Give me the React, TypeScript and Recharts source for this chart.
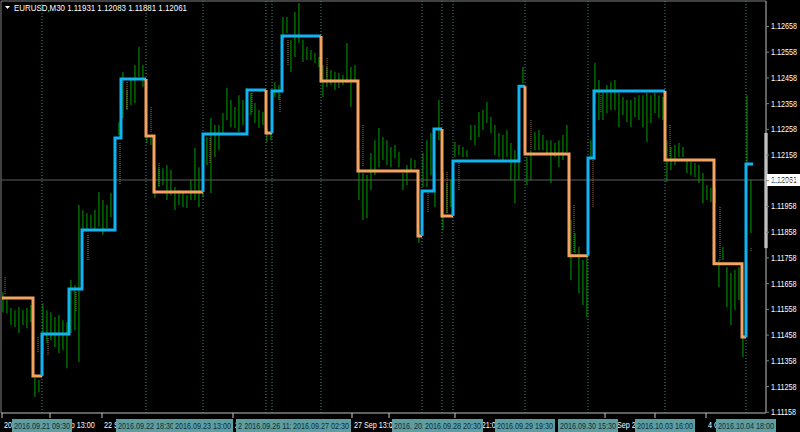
import { ComposedChart, Bar, Line, XAxis, YAxis, ReferenceLine, ReferenceArea } from 'recharts';

const FONT = "'Liberation Sans', Arial, sans-serif";
const SQUEEZE = 0.82; // terminal font is narrower than Liberation Sans

const symbol = 'EURUSD,M30';
const ohlc = [1.11931, 1.12083, 1.11881, 1.12061];
const lastPrice = 1.12061;

const priceTicks = [
  1.11158, 1.11258, 1.11358, 1.11458, 1.11558, 1.11658, 1.11758, 1.11858,
  1.11958, 1.12058, 1.12158, 1.12258, 1.12358, 1.12458, 1.12558, 1.12658,
];

// high / low of every second M30 bar
const barHi = [
  1.11625, 1.11594, 1.11563, 1.11555, 1.11567, 1.11555, 1.11563, 1.11575, 1.11291, 1.11283,
  1.11582, 1.11555, 1.11547, 1.11528, 1.11536, 1.11516, 1.11508, 1.11672, 1.11652, 1.11964,
  1.11944, 1.11932, 1.11925, 1.11944, 1.12014, 1.11983, 1.11964, 1.12010, 1.11983, 1.12286,
  1.12481, 1.12411, 1.12450, 1.12508, 1.12578, 1.12508, 1.12236, 1.12224, 1.12111, 1.12107,
  1.12107, 1.12119, 1.12100, 1.12034, 1.12022, 1.12010, 1.12002, 1.12061, 1.12185, 1.12111,
  1.12088, 1.12228, 1.12302, 1.12275, 1.12275, 1.12321, 1.12419, 1.12372, 1.12345, 1.12391,
  1.12372, 1.12419, 1.12399, 1.12360, 1.12333, 1.12325, 1.12267, 1.12244, 1.12442, 1.12430,
  1.12695, 1.12695, 1.12605, 1.12714, 1.12749, 1.12605, 1.12578, 1.12566, 1.12555, 1.12539,
  1.12508, 1.12500, 1.12489, 1.12481, 1.12477, 1.12469, 1.12594, 1.12500, 1.12508, 1.12177,
  1.12088, 1.12080, 1.12166, 1.12216, 1.12263, 1.12228, 1.12216, 1.12189, 1.12197, 1.12170,
  1.12088, 1.12119, 1.12146, 1.12139, 1.11866, 1.12166, 1.12216, 1.12244, 1.12088, 1.12372,
  1.12088, 1.12049, 1.12061, 1.12209, 1.12197, 1.12189, 1.12177, 1.12275, 1.12275, 1.12325,
  1.12333, 1.12364, 1.12306, 1.12275, 1.12244, 1.12236, 1.12255, 1.12205, 1.12177, 1.12139,
  1.12500, 1.12150, 1.12177, 1.12248, 1.12255, 1.12236, 1.12216, 1.12216, 1.12205, 1.12216,
  1.12236, 1.12275, 1.11905, 1.11855, 1.11800, 1.11750, 1.11761, 1.12216, 1.12516, 1.12450,
  1.12411, 1.12430, 1.12442, 1.12450, 1.12399, 1.12384, 1.12372, 1.12372, 1.12384, 1.12391,
  1.12391, 1.12399, 1.12391, 1.12399, 1.12391, 1.12384, 1.12216, 1.12189, 1.12197, 1.12205,
  1.12189, 1.12139, 1.12131, 1.12127, 1.12119, 1.12088, 1.12041, 1.12030, 1.12034, 1.11750,
  1.11800, 1.11722, 1.11699, 1.11711, 1.11722, 1.11450, 1.12391, 1.12061,
];
const barLo = [
  1.11547, 1.11543, 1.11497, 1.11489, 1.11466, 1.11497, 1.11485, 1.11508, 1.11217, 1.11236,
  1.11388, 1.11427, 1.11438, 1.11411, 1.11388, 1.11399, 1.11329, 1.11466, 1.11477, 1.11353,
  1.11859, 1.11866, 1.11874, 1.11866, 1.11878, 1.11847, 1.11874, 1.11917, 1.11886, 1.12236,
  1.12302, 1.12333, 1.12353, 1.12360, 1.12461, 1.12423, 1.12205, 1.12197, 1.11991, 1.12034,
  1.12041, 1.11983, 1.12002, 1.11944, 1.11964, 1.11956, 1.11952, 1.11983, 1.11983, 1.11956,
  1.11995, 1.12119, 1.12010, 1.12150, 1.12177, 1.12244, 1.12294, 1.12267, 1.12263, 1.12248,
  1.12275, 1.12321, 1.12314, 1.12283, 1.12263, 1.12275, 1.12209, 1.12216, 1.12384, 1.12372,
  1.12605, 1.12633, 1.12481, 1.12539, 1.12594, 1.12520, 1.12528, 1.12528, 1.12516, 1.12500,
  1.12384, 1.12423, 1.12430, 1.12411, 1.12419, 1.12430, 1.12438, 1.12345, 1.12450, 1.11983,
  1.11905, 1.11913, 1.12022, 1.12080, 1.12111, 1.12139, 1.12119, 1.12111, 1.12146, 1.12111,
  1.12022, 1.12041, 1.12100, 1.12107, 1.11816, 1.12034, 1.12034, 1.12080, 1.11956, 1.12216,
  1.11866, 1.11932, 1.11956, 1.12150, 1.12158, 1.12150, 1.12150, 1.12216, 1.12197, 1.12228,
  1.12255, 1.12283, 1.12244, 1.12158, 1.12150, 1.12139, 1.12150, 1.12061, 1.11971, 1.12061,
  1.12438, 1.12041, 1.12061, 1.12177, 1.12177, 1.12177, 1.12158, 1.12049, 1.12150, 1.12111,
  1.12139, 1.12170, 1.11672, 1.11777, 1.11621, 1.11575, 1.11528, 1.12150, 1.12360, 1.12294,
  1.12294, 1.12321, 1.12333, 1.12333, 1.12267, 1.12314, 1.12286, 1.12267, 1.12306, 1.12294,
  1.12267, 1.12209, 1.12283, 1.12321, 1.12302, 1.12294, 1.12053, 1.12100, 1.12119, 1.12150,
  1.12150, 1.12088, 1.12080, 1.12072, 1.12049, 1.11971, 1.11983, 1.11975, 1.11971, 1.11645,
  1.11750, 1.11567, 1.11497, 1.11555, 1.11594, 1.11372, 1.12127, 1.11855,
];

// stepped trend line: bar where each level starts, the level, and its direction
const stepStart = [
  0.5, 16, 20.5, 34, 40.5, 57, 60, 72.5, 76.5, 101, 123, 132.5, 135.5, 140.5, 160,
  178.5, 208.5, 210.5, 216.5, 220.5, 226, 259, 262, 284, 293.5, 296.5, 332, 356.5, 370.5, 372.5,
];
const stepEnd = 376;
const stepLevel = [
  1.11602, 1.11299, 1.11462, 1.11637, 1.11867, 1.12224, 1.12454, 1.12232, 1.12014, 1.12240,
  1.12411, 1.12244, 1.12407, 1.12621, 1.12446, 1.12096, 1.11843, 1.12018, 1.12259, 1.11921,
  1.12135, 1.12426, 1.12162, 1.11766, 1.12147, 1.12407, 1.12139, 1.11735, 1.11451, 1.12123,
];
const stepTrend = [
  'dn', 'dn', 'up', 'up', 'up', 'up', 'up', 'dn', 'dn', 'up', 'up', 'dn', 'up', 'up', 'dn',
  'dn', 'dn', 'up', 'up', 'dn', 'up', 'up', 'dn', 'dn', 'up', 'up', 'dn', 'dn', 'dn', 'up',
];

// thin dotted traces
const traceIdx = [2, 18.5, 23.5, 37.5, 43.5, 59.5, 63, 75, 79, 104.5, 125.5, 139.5, 143.5, 163, 181, 213.5, 223, 229, 265, 286.5, 296, 300, 334.5, 359.5, 375];
const traceTop = [1.11683, 1.11450, 1.11446, 1.11625, 1.11847, 1.12205, 1.12442, 1.12345, 1.12127, 1.12224, 1.12399, 1.12391, 1.12605, 1.12535, 1.12275, 1.12010, 1.12092, 1.12127, 1.12294, 1.11964, 1.12139, 1.12391, 1.12275, 1.11956, 1.11796];
const traceBottom = [1.11613, 1.11388, 1.11380, 1.11547, 1.11750, 1.12041, 1.12333, 1.12248, 1.12034, 1.12127, 1.12321, 1.12321, 1.12508, 1.12458, 1.12111, 1.11932, 1.11932, 1.12022, 1.12177, 1.11777, 1.11952, 1.12321, 1.12150, 1.11750, 1.11781];

// signal separators and their time stamps
const signalIdx = [20.5, 72.5, 101, 132.5, 135.5, 160, 210.5, 220.5, 226, 262, 293.5, 332, 372.5];
const signalTime = [
  '2016.09.21 09:30', '2016.09.22 18:30', '2016.09.23 13:00', '2016.09.26 07:30', '2016.09.26 11:00',
  '2016.09.27 02:30', '2016.09.27 22:30', '2016.09.28 10:00', '2016.09.28 20:30', '2016.09.29 19:30',
  '2016.09.30 15:30', '2016.10.03 16:00', '2016.10.04 18:00',
];

// time axis
const timeTickIdx = [0.5, 24.5, 50.5, 116, 175.5, 194, 227, 302, 327, 352.5];
const timeTickLabel = [
  '20 Sep 2016', '21 Sep 13:00', '22 Sep 05:00', '23 Sep 21:00', '27 Sep 13:00',
  '28 Sep 05:00', '28 Sep 21:00', '30 Sep 21:00', '3 Oct 09:00', '4 Oct 01:00',
];

// white marker on the price scale
const scaleMarkTop = 1.12244;
const scaleMarkBottom = 1.11796;

const BLUE = '#10b4f0';
const ORANGE = '#f4a460';
const GREEN = '#00b000';
const AXIS = '#808080';

const bars = barHi.map((hi, k) => ({ t: 1 + 2 * k, range: [barLo[k], hi] }));

type Pt = { t: number; p: number | null };
const runs: { trend: string; pts: Pt[] }[] = [];
stepStart.forEach((s, j) => {
  const e = j + 1 < stepStart.length ? stepStart[j + 1] : stepEnd;
  let cur = runs[runs.length - 1];
  if (!cur || cur.trend !== stepTrend[j]) {
    cur = { trend: stepTrend[j], pts: [] };
    if (j > 0) cur.pts.push({ t: s, p: stepLevel[j - 1] });
    runs.push(cur);
  }
  cur.pts.push({ t: s, p: stepLevel[j] }, { t: e, p: stepLevel[j] });
});

const traces: Pt[] = traceIdx.flatMap((t, i) => [
  { t, p: traceTop[i] },
  { t, p: traceBottom[i] },
  { t, p: null },
]);

// plain labels first, signal boxes after so they paint on top
const axisTicks = [...timeTickIdx, ...signalIdx];

const NText = ({ x, y, anchor = 'start', fill = '#ffffff', squeeze = SQUEEZE, children }: any) => (
  <text
    transform={`translate(${x},${y}) scale(${squeeze},1)`}
    textAnchor={anchor}
    fontSize={8.8}
    fontFamily={FONT}
    fill={fill}
  >
    {children}
  </text>
);

const TimeTick = (props: any) => {
  const { x, y, index } = props;
  if (index < timeTickIdx.length) {
    return (
      <g>
        <line x1={x} y1={y} x2={x} y2={y + 5} stroke="#c8c8c8" />
        <NText x={x + 2} y={y + 15}>{timeTickLabel[index]}</NText>
      </g>
    );
  }
  const text = signalTime[index - timeTickIdx.length];
  return (
    <g>
      <rect x={x - 30} y={y + 6} width={60} height={13} fill="#5f9ea0" />
      <NText x={x} y={y + 16} anchor="middle" fill="#0e2c3a">{text}</NText>
    </g>
  );
};

const PriceTick = (props: any) => {
  const { x, y, payload } = props;
  return <NText x={x} y={y + 3}>{payload.value.toFixed(5)}</NText>;
};

const PriceBox = (props: any) => {
  const { viewBox } = props;
  const right = viewBox.x + viewBox.width;
  return (
    <g>
      <rect x={right} y={viewBox.y - 6} width={34} height={12} fill="#ffffff" />
      <NText x={right + 5} y={viewBox.y + 3.5} fill="#000000">{lastPrice.toFixed(5)}</NText>
    </g>
  );
};

export default function App() {
  const yMin = 1.11155;
  const yMax = 1.12757;
  return (
    <div style={{ position: 'fixed', left: 0, top: 0, width: 800, height: 432, background: '#000' }}>
      <ComposedChart width={800} height={432} data={bars} margin={{ top: 1, right: 0, bottom: 0, left: 1 }}>
        <XAxis
          dataKey="t"
          type="number"
          domain={[0, 382.5]}
          allowDataOverflow
          ticks={axisTicks}
          interval={0}
          height={19}
          tickSize={0}
          tickMargin={0}
          tickLine={false}
          axisLine={{ stroke: AXIS }}
          tick={<TimeTick />}
        />
        <YAxis
          orientation="right"
          type="number"
          domain={[yMin, yMax]}
          allowDataOverflow
          ticks={priceTicks}
          interval={0}
          width={34}
          tickSize={3}
          tickMargin={2}
          tickLine={{ stroke: AXIS }}
          axisLine={{ stroke: AXIS }}
          tick={<PriceTick />}
        />
        <ReferenceArea x1={0} x2={382.5} y1={yMin} y2={yMax} fill="none" stroke={AXIS} strokeOpacity={1} fillOpacity={0} />
        {signalIdx.map((t) => (
          <ReferenceLine key={t} x={t} stroke="#4f8585" strokeDasharray="1 2" />
        ))}
        <ReferenceLine y={lastPrice} stroke="#5e5e5e" label={<PriceBox />} />
        <Bar dataKey="range" fill={GREEN} barSize={3} isAnimationActive={false} />
        <Line
          data={traces}
          dataKey="p"
          stroke="#a8744a"
          strokeWidth={1}
          strokeDasharray="1 1"
          dot={false}
          connectNulls={false}
          isAnimationActive={false}
        />
        {runs.map((r, i) => (
          <Line
            key={i}
            data={r.pts}
            dataKey="p"
            type="linear"
            stroke={r.trend === 'up' ? BLUE : ORANGE}
            strokeWidth={3}
            strokeLinejoin="miter"
            dot={false}
            isAnimationActive={false}
          />
        ))}
        <ReferenceLine
          segment={[{ x: 382.5, y: scaleMarkTop }, { x: 382.5, y: scaleMarkBottom }]}
          stroke="#ffffff"
          strokeWidth={3}
        />
      </ComposedChart>
      <svg width={300} height={14} style={{ position: 'absolute', left: 0, top: 0 }}>
        <path d="M5 6 L10 6 L7.5 9 Z" fill="#ffffff" />
        <NText x={14} y={10.5} squeeze={0.9}>{symbol + '  ' + ohlc.map((v) => v.toFixed(5)).join(' ')}</NText>
      </svg>
    </div>
  );
}
